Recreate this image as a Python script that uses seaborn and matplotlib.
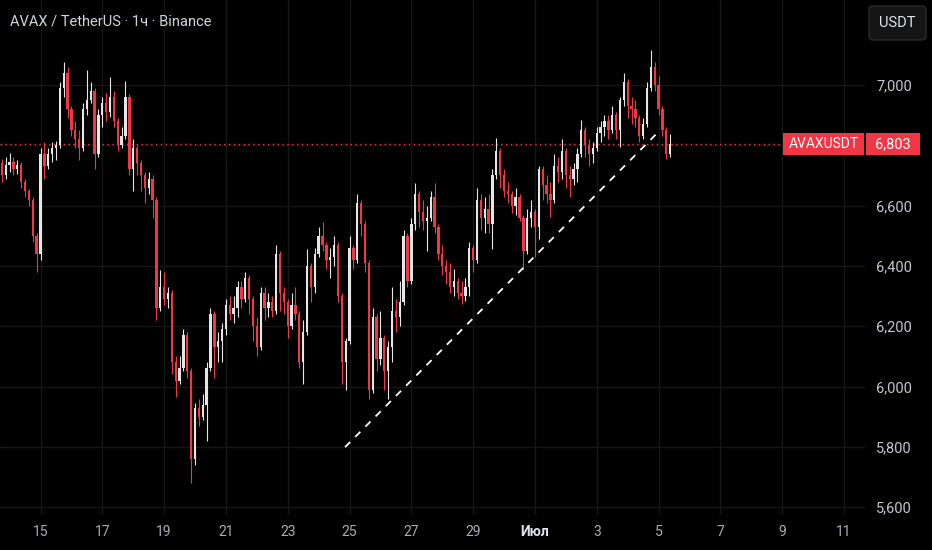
import matplotlib
matplotlib.use("Agg")
import matplotlib.pyplot as plt
import matplotlib.dates as mdates
from matplotlib.patches import FancyBboxPatch, Rectangle
from matplotlib.transforms import blended_transform_factory
import numpy as np
import pandas as pd
import seaborn as sns

start = "2025-06-13 18:00"
first_open = 6.740

close = [
    6.700, 6.735,
    6.745, 6.720, 6.735, 6.680, 6.650, 6.620, 6.500, 6.440,
    6.770, 6.730, 6.770, 6.790, 6.800, 6.990, 7.040, 6.920,
    6.850, 6.820, 6.790, 6.920, 6.950, 6.980, 6.770, 6.900,
    6.940, 6.910, 6.960, 6.880, 6.800, 6.830, 6.960, 6.720,
    6.790, 6.740, 6.700, 6.660, 6.690, 6.620, 6.260, 6.330,
    6.290, 6.310, 6.080, 6.020, 6.060, 6.170, 6.050, 5.760,
    5.930, 5.900, 5.940, 6.060, 6.240, 6.130, 6.150, 6.190,
    6.270, 6.240, 6.260, 6.330, 6.290, 6.360, 6.290, 6.200,
    6.130, 6.310, 6.260, 6.280, 6.250, 6.440, 6.310, 6.280,
    6.200, 6.270, 6.240, 6.080, 6.180, 6.400, 6.330, 6.440,
    6.500, 6.470, 6.420, 6.430, 6.470, 6.300, 6.080, 6.150,
    6.460, 6.420, 6.610, 6.540, 6.410, 5.990, 6.230, 6.090,
    6.160, 6.050, 6.130, 6.250, 6.230, 6.280, 6.500, 6.350,
    6.540, 6.640, 6.580, 6.550, 6.560, 6.630, 6.530, 6.440,
    6.400, 6.380, 6.330, 6.350, 6.310, 6.300, 6.330, 6.460,
    6.420, 6.620, 6.560, 6.590, 6.540, 6.700, 6.780, 6.700,
    6.650, 6.640, 6.600, 6.630, 6.560, 6.450, 6.560, 6.580,
    6.530, 6.720, 6.670, 6.640, 6.620, 6.730, 6.710, 6.780,
    6.700, 6.690, 6.720, 6.770, 6.850, 6.800, 6.770, 6.790,
    6.840, 6.860, 6.880, 6.850, 6.900, 6.850, 6.950, 7.010,
    6.930, 6.920, 6.890, 6.830, 6.870, 6.990, 7.060, 7.000,
    6.920, 6.850, 6.770, 6.803,
]

high = [
    6.755, 6.760,
    6.775, 6.760, 6.750, 6.745, 6.690, 6.655, 6.630, 6.510,
    6.790, 6.810, 6.790, 6.810, 6.815, 7.010, 7.075, 7.060,
    6.930, 6.880, 6.850, 6.940, 7.050, 7.010, 6.990, 6.920,
    6.960, 6.975, 7.025, 6.980, 6.890, 6.860, 7.015, 6.970,
    6.820, 6.800, 6.750, 6.710, 6.710, 6.700, 6.630, 6.385,
    6.380, 6.330, 6.320, 6.100, 6.100, 6.190, 6.180, 6.060,
    5.945, 5.960, 5.975, 6.080, 6.260, 6.250, 6.180, 6.210,
    6.290, 6.300, 6.300, 6.350, 6.350, 6.380, 6.370, 6.300,
    6.230, 6.330, 6.330, 6.310, 6.300, 6.470, 6.450, 6.330,
    6.290, 6.310, 6.330, 6.250, 6.220, 6.455, 6.410, 6.460,
    6.530, 6.545, 6.480, 6.460, 6.500, 6.480, 6.310, 6.160,
    6.500, 6.470, 6.640, 6.620, 6.550, 6.420, 6.260, 6.240,
    6.250, 6.170, 6.150, 6.330, 6.290, 6.350, 6.520, 6.510,
    6.560, 6.675, 6.650, 6.620, 6.600, 6.650, 6.675, 6.540,
    6.470, 6.420, 6.410, 6.390, 6.360, 6.350, 6.360, 6.480,
    6.470, 6.660, 6.640, 6.630, 6.640, 6.720, 6.825, 6.790,
    6.720, 6.680, 6.650, 6.660, 6.640, 6.570, 6.590, 6.620,
    6.590, 6.730, 6.730, 6.700, 6.680, 6.770, 6.760, 6.820,
    6.790, 6.730, 6.740, 6.790, 6.885, 6.860, 6.820, 6.810,
    6.860, 6.880, 6.900, 6.900, 6.930, 6.910, 6.960, 7.040,
    7.020, 6.960, 6.950, 6.900, 6.890, 7.010, 7.115, 7.075,
    7.030, 6.930, 6.860, 6.836,
]

low = [
    6.680, 6.690,
    6.710, 6.700, 6.705, 6.660, 6.630, 6.600, 6.480, 6.380,
    6.420, 6.690, 6.720, 6.745, 6.750, 6.790, 6.960, 6.890,
    6.830, 6.790, 6.750, 6.780, 6.900, 6.940, 6.720, 6.760,
    6.860, 6.880, 6.895, 6.860, 6.780, 6.790, 6.820, 6.700,
    6.650, 6.700, 6.650, 6.610, 6.640, 6.560, 6.220, 6.250,
    6.270, 6.260, 6.040, 5.965, 6.010, 6.050, 6.030, 5.680,
    5.740, 5.870, 5.890, 5.820, 6.050, 6.030, 6.080, 6.080,
    6.170, 6.220, 6.210, 6.230, 6.260, 6.280, 6.240, 6.150,
    6.100, 6.120, 6.220, 6.230, 6.230, 6.240, 6.250, 6.240,
    6.160, 6.190, 6.220, 6.060, 6.010, 6.170, 6.280, 6.310,
    6.430, 6.450, 6.390, 6.360, 6.400, 6.280, 6.010, 5.990,
    6.140, 6.390, 6.410, 6.500, 6.380, 5.960, 5.980, 6.050,
    6.070, 5.990, 5.960, 6.080, 6.180, 6.200, 6.270, 6.330,
    6.340, 6.520, 6.530, 6.520, 6.450, 6.550, 6.510, 6.420,
    6.370, 6.340, 6.310, 6.300, 6.290, 6.275, 6.285, 6.300,
    6.380, 6.410, 6.520, 6.510, 6.510, 6.455, 6.690, 6.660,
    6.630, 6.610, 6.575, 6.570, 6.550, 6.385, 6.440, 6.530,
    6.430, 6.490, 6.620, 6.610, 6.563, 6.610, 6.680, 6.690,
    6.660, 6.630, 6.670, 6.680, 6.760, 6.760, 6.730, 6.740,
    6.780, 6.810, 6.830, 6.820, 6.840, 6.820, 6.795, 6.930,
    6.890, 6.870, 6.860, 6.810, 6.820, 6.860, 6.980, 6.980,
    6.900, 6.830, 6.755, 6.760,
]

# dashed support line drawn on the chart
trend_time = ["2025-06-24 20:30", "2025-07-04 23:00"]
trend_price = [5.799, 6.841]

tick_dates = ["2025-06-15", "2025-06-17", "2025-06-19", "2025-06-21", "2025-06-23",
              "2025-06-25", "2025-06-27", "2025-06-29", "2025-07-01", "2025-07-03",
              "2025-07-05", "2025-07-07", "2025-07-09", "2025-07-11"]
tick_labels = ["15", "17", "19", "21", "23", "25", "27", "29", "Июл",
               "3", "5", "7", "9", "11"]
# 6,800 sits under the last-price tag, so its label is not shown
price_ticks = [5.6, 5.8, 6.0, 6.2, 6.4, 6.6, 6.8, 7.0]
price_labels = ["5,600", "5,800", "6,000", "6,200", "6,400", "6,600", "", "7,000"]

BG = "#000000"
UP = "#e6e6e6"
DOWN = "#f23645"
GRID = "#161616"
TXT = "#c3c6ce"

sns.set_theme(style="dark", rc={"axes.facecolor": BG, "figure.facecolor": BG,
                                "savefig.facecolor": BG})
plt.rcParams["font.family"] = ["Roboto", "DejaVu Sans"]

df = pd.DataFrame({
    "time": pd.date_range(start, periods=len(close), freq="3h"),
    "close": close, "high": high, "low": low,
})
df["open"] = [first_open] + close[:-1]
df["x"] = mdates.date2num(df["time"])
colors = np.where(df["close"] >= df["open"], UP, DOWN)

fig = plt.figure(figsize=(9.32, 5.5), dpi=100)
ax = fig.add_axes([0, 35 / 550, 865 / 932, 515 / 550])

# candles
ax.vlines(df["x"], df["low"], df["high"], colors=colors, lw=0.8, zorder=3)
body = np.maximum((df["close"] - df["open"]).abs(), 0.003)
ax.bar(df["x"], body, bottom=np.minimum(df["open"], df["close"]),
       width=0.075, color=colors, linewidth=0, zorder=3)

# trend line
sns.lineplot(x=mdates.date2num(pd.to_datetime(trend_time)), y=trend_price, ax=ax,
             color="white", lw=1.3, linestyle=(0, (4, 4)), zorder=4)

# last price line
last = close[-1]
ax.axhline(last, color=DOWN, lw=1, ls=(0, (1, 2.5)), zorder=2)

x0 = pd.Timestamp("2025-06-15")
ax.set_xlim(mdates.date2num(x0 - pd.Timedelta(days=1.311)),
            mdates.date2num(x0 + pd.Timedelta(days=26.68)))
ax.set_ylim(5.574, 7.282)

ax.set_xticks(mdates.date2num(pd.to_datetime(tick_dates)))
ax.set_xticklabels(tick_labels)
ax.yaxis.tick_right()
ax.set_yticks(price_ticks)
ax.set_yticklabels(price_labels)
ax.tick_params(axis="x", length=0, pad=7, labelsize=10, colors="#a9acb4")
ax.tick_params(axis="y", length=0, pad=8, labelsize=10.5, colors=TXT)
for lab in ax.get_xticklabels():
    if lab.get_text() == "Июл":
        lab.set_fontweight("bold")
        lab.set_color("#e0e3eb")

ax.grid(True, color=GRID, lw=1)
ax.set_axisbelow(True)
for s in ax.spines.values():
    s.set_visible(False)
ax.set_xlabel("")
ax.set_ylabel("")
if ax.get_legend():
    ax.get_legend().remove()

# price tag
tr = blended_transform_factory(ax.transAxes, ax.transData)
h = 22 * (7.282 - 5.574) / 515
ax.add_patch(Rectangle((783 / 865, last - h / 2), 81 / 865, h, transform=tr,
                       fc=DOWN, ec="none", clip_on=False, zorder=10))
ax.add_patch(Rectangle((866 / 865, last - h / 2), 54 / 865, h, transform=tr,
                       fc=DOWN, ec="none", clip_on=False, zorder=10))
ax.text(823.5 / 865, last, "AVAXUSDT", transform=tr, ha="center", va="center",
        color="white", fontsize=10, zorder=11, clip_on=False)
ax.text(893 / 865, last, "6,803", transform=tr, ha="center", va="center",
        color="white", fontsize=10.5, zorder=11, clip_on=False)

# header text and currency button
fig.text(10 / 932, 1 - 22 / 550, "AVAX / TetherUS · 1ч · Binance",
         color="#d1d4dc", fontsize=10.5, va="center", ha="left")
fig.patches.append(FancyBboxPatch((869 / 932, 1 - 40 / 550), 57 / 932, 34 / 550,
                                  boxstyle="round,pad=0,rounding_size=0.006",
                                  transform=fig.transFigure, fc="#151515",
                                  ec="#2b2b2b", lw=1))
fig.text(897.5 / 932, 1 - 23 / 550, "USDT", color="#e0e3eb", fontsize=10.5,
         ha="center", va="center")

fig.savefig("out.png", dpi=100, facecolor=BG)
